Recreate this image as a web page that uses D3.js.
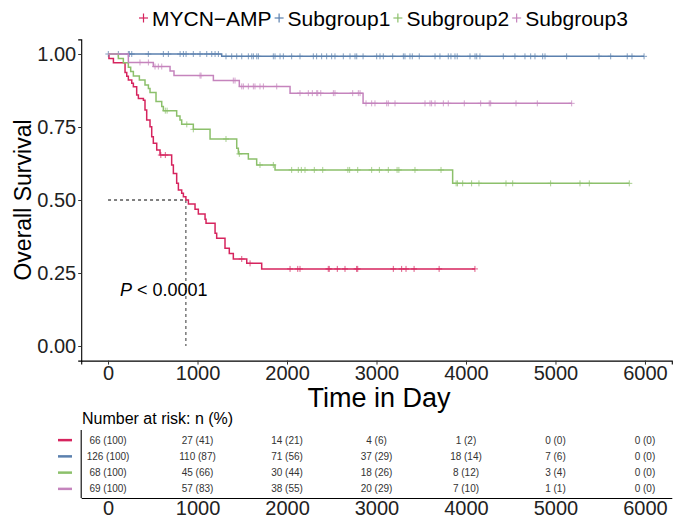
<!DOCTYPE html>
<html>
<head>
  <title>KM</title>
  <meta charset='utf-8'>
  <style>
    body { margin: 0; background: #fff; }
    text { font-family: "Liberation Sans", Arial, sans-serif; }
  </style>
</head>
<body>
  <div id="chart"></div>
  <script src="https://d3js.org/d3.v7.min.js"></script>
  <script type="text/javascript">
    var width = 687,
        height = 523;

    // group names and colours
    var groups = ["MYCN\u2212AMP", "Subgroup1", "Subgroup2", "Subgroup3"];
    var colors = ["#d6245e", "#5b80ae", "#8cc06b", "#c584bd"];

    // survival steps (time in days, survival)
    var mycnTime = [0, 10, 60, 190, 209, 227, 265, 283, 320, 339, 395, 413, 432, 469, 488, 506, 544, 581, 711, 730, 767, 786, 823, 842, 870, 898, 972, 1009, 1084, 1095, 1196, 1214, 1307, 1355, 1400, 1550, 1717];
    var mycnSurv = [1, 0.985, 0.970, 0.937, 0.924, 0.911, 0.900, 0.888, 0.860, 0.848, 0.842, 0.808, 0.774, 0.751, 0.717, 0.694, 0.671, 0.654, 0.620, 0.591, 0.557, 0.534, 0.523, 0.511, 0.500, 0.486, 0.468, 0.452, 0.434, 0.420, 0.386, 0.369, 0.335, 0.317, 0.298, 0.283, 0.264];
    var mycnCensor = [590, 640, 1494, 1587, 2034, 2120, 2145, 2461, 2472, 2562, 2648, 2778, 2790, 3188, 3281, 3330, 3420, 3700, 4100];

    var s1Time = [0, 1270];
    var s1Surv = [1, 0.992];
    var s1Censor = [3, 115, 227, 238, 265, 450, 618, 674, 805, 842, 872, 953, 1028, 1103, 1159, 1196, 1233, 1318, 1382, 1438, 1494, 1568, 1606, 1624, 1662, 1680, 1847, 1866, 1922, 1959, 2052, 2145, 2294, 2331, 2387, 2443, 2499, 2536, 2629, 2704, 2760, 2779, 2850, 3002, 3039, 3076, 3181, 3300, 3318, 3374, 3400, 3478, 3654, 3709, 3802, 3832, 3877, 3902, 4045, 4101, 4120, 4156, 4417, 4547, 4659, 4723, 4771, 4857, 4883, 5125, 5486, 5617, 5802, 5855, 5990];

    var s2Time = [0, 115, 171, 227, 253, 283, 350, 413, 451, 469, 536, 600, 618, 767, 804, 823, 953, 1140, 1438, 1456, 1568, 1661, 1866, 3851];
    var s2Surv = [1, 0.985, 0.970, 0.955, 0.940, 0.925, 0.911, 0.894, 0.882, 0.868, 0.837, 0.820, 0.806, 0.788, 0.774, 0.759, 0.742, 0.709, 0.677, 0.658, 0.640, 0.620, 0.603, 0.557];
    var s2Censor = [640, 660, 880, 953, 1318, 1467, 1698, 1847, 2052, 2126, 2160, 2201, 2305, 2399, 2680, 2700, 2790, 2946, 3032, 3132, 3230, 3250, 3430, 3721, 3890, 3905, 3963, 4063, 4145, 4447, 4522, 4946, 5274, 5378, 5825];

    var s3Time = [0, 227, 506, 693, 737, 1177, 1467, 2034, 2850];
    var s3Surv = [1, 0.971, 0.957, 0.942, 0.926, 0.909, 0.889, 0.866, 0.831];
    var s3Censor = [357, 451, 525, 562, 600, 1028, 1039, 1400, 1419, 1494, 1512, 1568, 1624, 1642, 1698, 1736, 1885, 2145, 2238, 2283, 2332, 2343, 2377, 2518, 2536, 2734, 2797, 2816, 2883, 2946, 2983, 3114, 3132, 3207, 3542, 3598, 3616, 3654, 3747, 3802, 3981, 4164, 4260, 4276, 4559, 4797, 5181];

    // number at risk table
    var riskTimes = [0, 1000, 2000, 3000, 4000, 5000, 6000];
    var riskMycn = ["66 (100)", "27 (41)", "14 (21)", "4 (6)", "1 (2)", "0 (0)", "0 (0)"];
    var riskS1 = ["126 (100)", "110 (87)", "71 (56)", "37 (29)", "18 (14)", "7 (6)", "0 (0)"];
    var riskS2 = ["68 (100)", "45 (66)", "30 (44)", "18 (26)", "8 (12)", "3 (4)", "0 (0)"];
    var riskS3 = ["69 (100)", "57 (83)", "38 (55)", "20 (29)", "7 (10)", "1 (1)", "0 (0)"];

    var yTicks = [0, 0.25, 0.5, 0.75, 1];
    var medianTime = 870;

    var series = [
      {time: mycnTime, surv: mycnSurv, censor: mycnCensor, risk: riskMycn},
      {time: s1Time, surv: s1Surv, censor: s1Censor, risk: riskS1},
      {time: s2Time, surv: s2Surv, censor: s2Censor, risk: riskS2},
      {time: s3Time, surv: s3Surv, censor: s3Censor, risk: riskS3}
    ];

    var svg = d3.select("#chart").append("svg")
        .attr("width", width)
        .attr("height", height);

    var x = d3.scaleLinear().domain([-300, 6300]).range([81.2, 671.8]);
    var y = d3.scaleLinear().domain([-0.05, 1.05]).range([360.6, 39.4]);

    function survAt(s, t) {
      var v = s.surv[0];
      for (var i = 0; i < s.time.length; i++) if (s.time[i] <= t) v = s.surv[i];
      return v;
    }

    // axes
    var yAxis = svg.append("g").attr("transform", "translate(81.2,0)")
        .call(d3.axisLeft(y).tickValues(yTicks).tickFormat(d3.format(".2f")).tickSize(3).tickPadding(2));
    var xAxis = svg.append("g").attr("transform", "translate(0,360.6)")
        .call(d3.axisBottom(x).tickValues(riskTimes).tickFormat(d3.format("d")).tickSize(4).tickPadding(1));
    [yAxis, xAxis].forEach(function(a) {
      a.select(".domain").attr("stroke", "#000").attr("stroke-width", 1.1);
      a.selectAll(".tick line").attr("stroke", "#333");
      a.selectAll(".tick text").attr("fill", "#222").style("font-size", "20px");
    });

    svg.append("text")
        .attr("transform", "translate(31,200) rotate(-90)")
        .attr("text-anchor", "middle")
        .style("font-size", "23px")
        .text("Overall Survival");
    svg.append("text")
        .attr("x", 379).attr("y", 407)
        .attr("text-anchor", "middle")
        .style("font-size", "27px")
        .text("Time in Day");

    // median lines
    svg.append("line")
        .attr("x1", x(0)).attr("x2", x(medianTime))
        .attr("y1", y(0.5)).attr("y2", y(0.5))
        .attr("stroke", "#000").attr("stroke-dasharray", "3,3");
    svg.append("line")
        .attr("x1", x(medianTime)).attr("x2", x(medianTime))
        .attr("y1", y(0.5)).attr("y2", y(0))
        .attr("stroke", "#333").attr("stroke-dasharray", "3,3");

    var line = d3.line()
        .x(function(d) { return x(d[0]); })
        .y(function(d) { return y(d[1]); })
        .curve(d3.curveStepAfter);

    series.forEach(function(s, i) {
      var pts = s.time.map(function(t, j) { return [t, s.surv[j]]; });
      var end = Math.max(d3.max(s.censor), d3.max(s.time));
      pts.push([end, s.surv[s.surv.length - 1]]);
      svg.append("path")
          .attr("d", line(pts))
          .attr("fill", "none")
          .attr("stroke", colors[i])
          .attr("stroke-width", 1.5);
      var g = svg.append("g").attr("stroke", colors[i]).attr("stroke-width", 1).attr("opacity", 0.75);
      s.censor.forEach(function(t) {
        var cx = x(t), cy = y(survAt(s, t));
        g.append("line").attr("x1", cx).attr("x2", cx).attr("y1", cy - 3).attr("y2", cy + 3);
        g.append("line").attr("x1", cx - 3).attr("x2", cx + 3).attr("y1", cy).attr("y2", cy);
      });
    });

    // p value
    var pt = svg.append("text").attr("x", 120).attr("y", 296).style("font-size", "18px");
    pt.append("tspan").style("font-style", "italic").text("P");
    pt.append("tspan").text(" < 0.0001");

    // legend
    var lx = 139;
    groups.forEach(function(name, i) {
      var gl = svg.append("g");
      gl.append("line").attr("x1", lx).attr("x2", lx + 9).attr("y1", 18).attr("y2", 18)
          .attr("stroke", colors[i]).attr("stroke-width", 1.2);
      gl.append("line").attr("x1", lx + 4.5).attr("x2", lx + 4.5).attr("y1", 13.5).attr("y2", 22.5)
          .attr("stroke", colors[i]).attr("stroke-width", 1.2);
      var t = gl.append("text").attr("x", lx + 13).attr("y", 25.5).style("font-size", "21px").text(name);
      lx += 13 + t.node().getComputedTextLength() + 3;
    });

    // risk table
    var rowY = d3.scaleBand().domain(d3.range(4)).range([432, 497]);
    svg.append("text").attr("x", 82).attr("y", 424).style("font-size", "16px").text("Number at risk: n (%)");
    series.forEach(function(s, i) {
      var cy = rowY(i) + rowY.bandwidth() / 2;
      svg.append("line").attr("x1", 58).attr("x2", 72).attr("y1", cy).attr("y2", cy)
          .attr("stroke", colors[i]).attr("stroke-width", 2.5);
      svg.append("g").selectAll("text").data(s.risk).enter().append("text")
          .attr("x", function(d, j) { return x(riskTimes[j]); })
          .attr("y", cy + 3.5)
          .attr("text-anchor", "middle")
          .attr("fill", "#333")
          .style("font-size", "10px")
          .text(function(d) { return d; });
    });
    svg.append("line").attr("x1", 81.2).attr("x2", 81.2).attr("y1", 430).attr("y2", 498)
        .attr("stroke", "#000").attr("stroke-width", 1.1);
    var rAxis = svg.append("g").attr("transform", "translate(0,498)")
        .call(d3.axisBottom(x).tickValues(riskTimes).tickFormat(d3.format("d")).tickSize(0).tickPadding(3));
    rAxis.select(".domain").attr("stroke", "#000").attr("stroke-width", 1.1);
    rAxis.selectAll(".tick text").attr("fill", "#222").style("font-size", "20px");
  </script>
</body>
</html>
